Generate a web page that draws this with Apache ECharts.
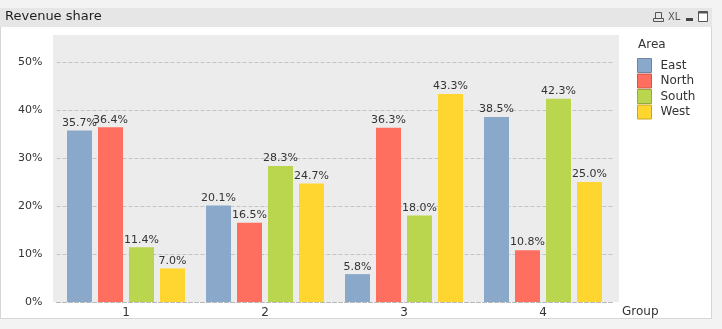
<!DOCTYPE html>
<html><head><meta charset="utf-8">
<script src="https://cdn.jsdelivr.net/npm/echarts@6/dist/echarts.min.js"></script>
<style>html,body{margin:0;padding:0;background:#f3f3f3;}#c{width:722px;height:329px;}</style>
</head><body><div id="c"></div>
<script>
const groups = ['1', '2', '3', '4'];
const areas = ['East', 'North', 'South', 'West'];
const east = [35.7, 20.1, 5.8, 38.5];
const north = [36.4, 16.5, 36.3, 10.8];
const south = [11.4, 28.3, 18.0, 42.3];
const west = [7.0, 24.7, 43.3, 25.0];
const colors = ['#8aa8c9', '#ff6f5f', '#bad64f', '#ffd62f'];
const borders = ['#6d86a3', '#c85a4d', '#93a93f', '#c9a826'];
const values = [east, north, south, west];
const FONT = 'DejaVu Sans';

const chart = echarts.init(document.getElementById('c'), null, {renderer: 'canvas'});
chart.setOption({
  animation: false,
  backgroundColor: '#f3f3f3',
  textStyle: {fontFamily: FONT},
  graphic: [
    {type: 'rect', z: -20, shape: {x: 0.5, y: 26.5, width: 711, height: 292}, style: {fill: '#ffffff', stroke: '#d6d6d6', lineWidth: 1}},
    {type: 'rect', z: -19, shape: {x: 0, y: 8, width: 712, height: 19}, style: {fill: '#e6e6e6'}},
    {type: 'text', z: -18, x: 5, y: 17, style: {text: 'Revenue share', font: '13px "DejaVu Sans"', fill: '#1e1e1e', verticalAlign: 'middle'}},
    {type: 'rect', z: -18, shape: {x: 655.5, y: 12.5, width: 6, height: 6}, style: {fill: 'none', stroke: '#555', lineWidth: 1}},
    {type: 'rect', z: -18, shape: {x: 653.5, y: 18.5, width: 10, height: 3}, style: {fill: 'none', stroke: '#555', lineWidth: 1}},
    {type: 'text', z: -18, x: 668, y: 17, style: {text: 'XL', font: '11px "DejaVu Sans Condensed"', fill: '#555', verticalAlign: 'middle'}},
    {type: 'rect', z: -18, shape: {x: 686, y: 18, width: 7, height: 3}, style: {fill: '#444'}},
    {type: 'rect', z: -18, shape: {x: 698.5, y: 11.5, width: 9, height: 10}, style: {fill: '#fff', stroke: '#555', lineWidth: 1}},
    {type: 'rect', z: -18, shape: {x: 698.5, y: 11.5, width: 9, height: 2}, style: {fill: '#555'}},
    {type: 'rect', z: -10, shape: {x: 53, y: 35, width: 566, height: 267}, style: {fill: '#ececec'}},
    {type: 'text', z: 10, x: 638, y: 45, style: {text: 'Area', font: '12px "DejaVu Sans"', fill: '#333', verticalAlign: 'middle'}},
    {type: 'text', z: 10, x: 622, y: 312, style: {text: 'Group', font: '12px "DejaVu Sans"', fill: '#333', verticalAlign: 'middle'}}
  ],
  legend: {
    orient: 'vertical',
    left: 637, top: 58, padding: 0,
    itemWidth: 14, itemHeight: 14, itemGap: 0.5,
    icon: 'rect',
    textStyle: {fontFamily: FONT, fontSize: 12, color: '#333', padding: [0, 0, 0, 4]},
    data: areas.map((a, i) => ({name: a, itemStyle: {color: colors[i], borderColor: borders[i], borderWidth: 1}}))
  },
  grid: {left: 56.5, right: 109.5, top: 35, bottom: 27, containLabel: false},
  xAxis: {
    type: 'category',
    data: groups,
    axisLine: {show: true, lineStyle: {color: '#b8b8b8', type: 'dashed'}},
    axisTick: {show: false},
    axisLabel: {fontFamily: FONT, fontSize: 12, color: '#333', margin: 5}
  },
  yAxis: {
    type: 'value',
    min: 0, max: 55.6, interval: 10,
    axisLine: {show: false},
    axisTick: {show: false},
    axisLabel: {fontFamily: FONT, fontSize: 11, color: '#333', margin: 14, formatter: '{value}%', showMaxLabel: false},
    splitLine: {showMaxLine: false, lineStyle: {color: '#c4c4c4', type: 'dashed'}}
  },
  series: areas.map((a, i) => ({
    name: a,
    type: 'bar',
    data: values[i],
    barWidth: 25,
    barGap: '24%',
    itemStyle: {color: colors[i]},
    label: {show: true, position: 'top', distance: 2, fontFamily: FONT, fontSize: 11, color: '#333', formatter: p => p.value.toFixed(1) + '%'}
  }))
});
</script></body></html>
